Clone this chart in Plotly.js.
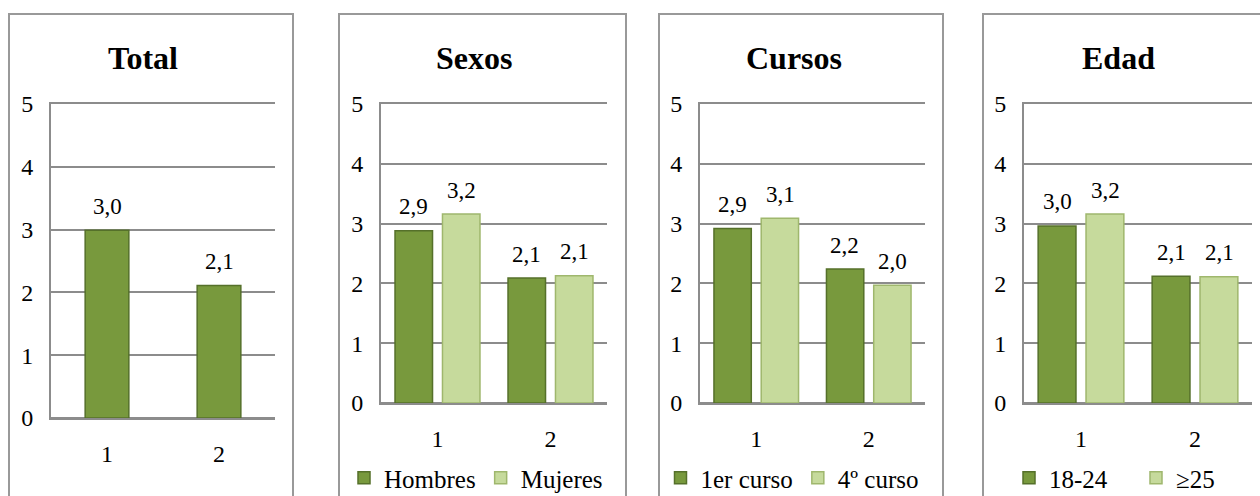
<!DOCTYPE html>
<html>
<head>
<meta charset="utf-8">
<script src="https://cdn.plot.ly/plotly-3.0.1.min.js"></script>
<style>html,body{margin:0;padding:0;background:#fff;}#chart{width:1260px;height:496px;}</style>
</head>
<body>
<div id="chart"></div>
<script>
// ---- data ----
const categories = ['1', '2'];
const panelTitles = ['Total', 'Sexos', 'Cursos', 'Edad'];
const totalValues = [2.99, 2.11];
const sexNames = ['Hombres', 'Mujeres'];
const hombresValues = [2.88, 2.09];
const mujeresValues = [3.16, 2.13];
const courseNames = ['1er curso', '4º curso'];
const curso1Values = [2.92, 2.24];
const curso4Values = [3.09, 1.97];
const ageNames = ['18-24', '≥25'];
const age1824Values = [2.96, 2.12];
const age25Values = [3.16, 2.11];
const yTicks = [0, 1, 2, 3, 4, 5];

// ---- style ----
const DARK = '#78993d', DARK_EDGE = '#55702a';
const LIGHT = '#c6da9c', LIGHT_EDGE = '#9fb76d';
const GRID = '#8c8c8c';
const FONT = 'Liberation Serif';

const traces = [];
const annotations = [];

function fmt(v) { return v.toFixed(1).replace('.', ','); }

function addLabels(vals, axis, xshift) {
  vals.forEach((v, i) => {
    annotations.push({
      x: i, y: v, xref: 'x' + axis, yref: 'y' + axis,
      text: fmt(v), showarrow: false, yanchor: 'middle', yshift: 24, xshift: xshift,
      font: {family: FONT, size: 23, color: '#000'}
    });
  });
}

// panel 1
traces.push({type: 'bar', x: categories, y: totalValues, xaxis: 'x', yaxis: 'y',
  width: 0.39, showlegend: false,
  marker: {color: DARK, line: {color: DARK_EDGE, width: 1.5}}});
addLabels(totalValues, '', 0);

const groups = [
  {names: sexNames, a: hombresValues, b: mujeresValues, ax: '2', leg: 'legend'},
  {names: courseNames, a: curso1Values, b: curso4Values, ax: '3', leg: 'legend2'},
  {names: ageNames, a: age1824Values, b: age25Values, ax: '4', leg: 'legend3'}
];
groups.forEach(g => {
  traces.push({type: 'bar', name: g.names[0], x: categories, y: g.a, xaxis: 'x' + g.ax, yaxis: 'y' + g.ax,
    legend: g.leg, marker: {color: DARK, line: {color: DARK_EDGE, width: 1.5}}});
  traces.push({type: 'bar', name: g.names[1], x: categories, y: g.b, xaxis: 'x' + g.ax, yaxis: 'y' + g.ax,
    legend: g.leg, marker: {color: LIGHT, line: {color: LIGHT_EDGE, width: 1.5}}});
  addLabels(g.a, g.ax, -24);
  addLabels(g.b, g.ax, 24);
});

const W = 1260, H = 496;
const px = v => v / W, py = v => (H - v) / H;

const plotX = [[51, 275], [381, 607], [700, 925], [1024, 1252]];
const plotY = [[104, 418], [104, 403], [104, 403], [104, 403]];
const borders = [[9, 293], [339, 626], [659, 943], [983, 1275]];
const titleX = [143, 474, 794, 1118];
const legendX = [476, 792, 1136];
const legendEntryW = [0, 0, 82];

const layout = {
  width: W, height: H, margin: {l: 0, r: 0, t: 0, b: 0, autoexpand: false},
  paper_bgcolor: '#fff', plot_bgcolor: 'rgba(0,0,0,0)',
  font: {family: FONT, color: '#000', size: 24},
  barmode: 'group', bargap: 0.16, bargroupgap: 0.21,
  annotations: annotations, shapes: []
};

for (let i = 0; i < 4; i++) {
  const s = i === 0 ? '' : String(i + 1);
  layout['xaxis' + s] = {
    domain: [px(plotX[i][0]), px(plotX[i][1])], anchor: 'y' + s,
    type: 'category', range: [-0.5, 1.5],
    showline: true, mirror: true, linecolor: GRID, linewidth: 2,
    showgrid: false, ticks: '',
    tickfont: {family: FONT, size: 24, color: '#000'}, ticklabelstandoff: 13, fixedrange: true
  };
  layout['yaxis' + s] = {
    domain: [py(plotY[i][1]), py(plotY[i][0])], anchor: 'x' + s,
    range: [0, 5], tickvals: yTicks, ticks: '',
    showline: true, linecolor: GRID, linewidth: 2,
    showgrid: true, gridcolor: GRID, gridwidth: 2,
    zeroline: true, zerolinecolor: GRID, zerolinewidth: 2,
    tickfont: {family: FONT, size: 24, color: '#000'}, ticklabelstandoff: 11, fixedrange: true
  };
  layout.shapes.push({type: 'rect', xref: 'paper', yref: 'paper',
    x0: px(borders[i][0]), x1: px(borders[i][1]), y0: -0.1, y1: py(14),
    line: {color: '#999', width: 2}, fillcolor: 'rgba(0,0,0,0)'});
  annotations.push({xref: 'paper', yref: 'paper', x: px(titleX[i]), y: py(58),
    text: '<b>' + panelTitles[i] + '</b>', showarrow: false, xanchor: 'center', yanchor: 'middle',
    font: {family: FONT, size: 32, color: '#000'}});
}
['legend', 'legend2', 'legend3'].forEach((l, j) => {
  layout[l] = {orientation: 'h', x: px(legendX[j]), xanchor: 'center', y: py(478), yanchor: 'middle',
    font: {family: FONT, size: 25, color: '#000'}, bgcolor: 'rgba(0,0,0,0)', itemclick: false,
    tracegroupgap: 0, entrywidth: legendEntryW[j]};
});

Plotly.newPlot('chart', traces, layout, {staticPlot: true, displayModeBar: false});
</script>
</body>
</html>
